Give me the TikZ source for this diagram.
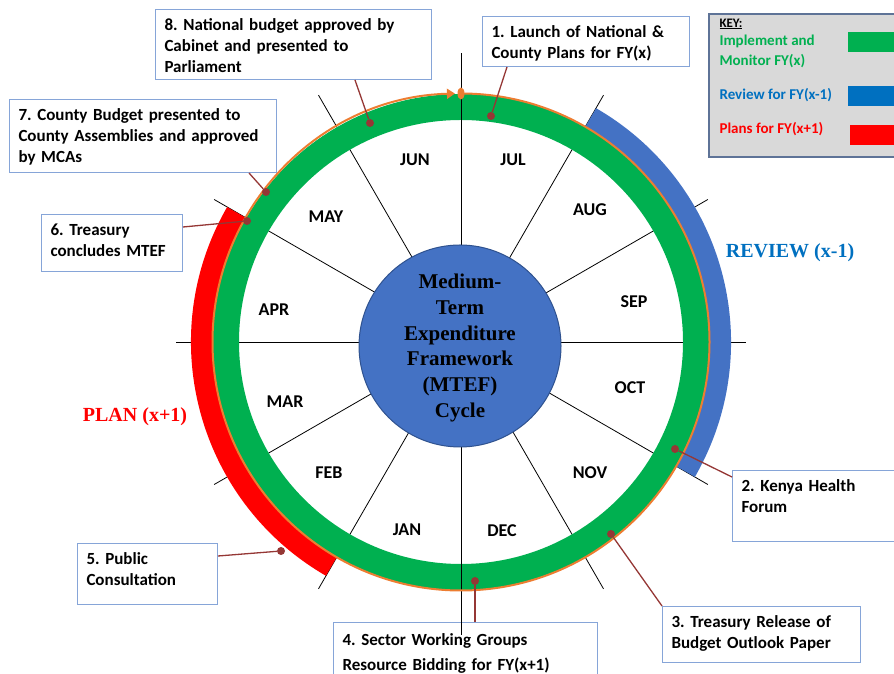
\documentclass[tikz,border=0pt]{standalone}
\usepackage{fontspec}
\setmainfont{Carlito}
\newfontfamily\timesfont{Liberation Serif}
\usetikzlibrary{calc}
\usetikzlibrary{arrows.meta}
\definecolor{ringgreen}{HTML}{00B050}
\definecolor{ringorange}{HTML}{ED7D31}
\definecolor{reviewblue}{HTML}{4472C4}
\definecolor{keyblue}{HTML}{0070C0}
\definecolor{hubedge}{HTML}{2F528F}
\definecolor{boxblue}{HTML}{86A5D8}
\definecolor{connred}{HTML}{953735}
\definecolor{keygray}{HTML}{D9D9D9}
\newcommand*{\ringr }{235}
\newcommand*{\ringw }{26}
\newcommand*{\orgr  }{248.5}
\newcommand*{\arcr  }{257.5}
\newcommand*{\arcw  }{25}
\newcommand*{\hubr  }{101}
\newcommand*{\spoke }{285}
\newcommand*{\boxfont}{\fontsize{17}{21}\selectfont\bfseries}
\newcommand*{\monfont}{\fontsize{18}{21}\selectfont\bfseries}
\newcommand*{\keyfont}{\fontsize{15}{20}\selectfont\bfseries}
\newcommand*{\bigfont}{\timesfont\fontsize{21}{25.8}\selectfont\bfseries}
\frenchspacing

\begin{document}
\begin{tikzpicture}[x=1pt, y=1pt,
    callout/.style={draw=boxblue, line width=1pt, fill=white, anchor=north west, align=left,
                    inner xsep=9pt, inner ysep=0pt, text height=21.5pt, font=\boxfont},
    dot/.style={circle, fill=connred, inner sep=0pt, minimum size=8pt},
    conn/.style={connred, line width=1.3pt},
    month/.style={font=\monfont},
    keytext/.style={anchor=west, align=left, font=\keyfont}]
    \useasboundingbox (0,0) rectangle (894,674);
    \coordinate (C) at (461,332);

    \node [callout, text width=258pt, text depth=48.5pt] (b8) at (155,665) {8. National budget approved by\\Cabinet and presented to\\Parliament};
    \node [callout, text width=249pt, text depth=51.5pt] (b7) at (9,575) {7. County Budget presented to\\County Assemblies and approved\\by MCAs};
    \node [callout, text width=123pt, text depth=35.5pt] (b6) at (41,460) {6. Treasury\\concludes MTEF};
    \node [callout, text width=189pt, text depth=28.5pt] (b1) at (482,658) {1. Launch of National \&\\County Plans for FY(x)};
    \node [callout, text width=157pt, text depth=49.5pt] (b2) at (732,204) {2. Kenya Health\\Forum};
    \node [callout, text width=180pt, text depth=34.5pt] (b3) at (662,68) {3. Treasury Release of\\Budget Outlook Paper};
    \node [callout, text width=246pt, text height=23pt, text depth=48.5pt,
           font=\fontsize{17}{25}\selectfont\bfseries] (b4) at (333,52) {4. Sector Working Groups\\Resource Bidding for FY(x+1)};
    \node [callout, text width=122pt, text depth=39.5pt] (b5) at (77,131) {5. Public\\Consultation};

    \foreach \ang in {0,30,...,330}
        \draw [black, line width=0.8pt] (C) -- ++(\ang:\spoke);
    \draw [reviewblue, line width=\arcw pt] ($(C)+(-30:\arcr)$) arc [start angle=-30, end angle=60, radius=\arcr];
    \draw [red, line width=\arcw pt] ($(C)+(150:\arcr)$) arc [start angle=150, end angle=240, radius=\arcr];
    \draw [ringgreen, line width=\ringw pt] (C) circle (\ringr);
    \draw [black, line width=0.8pt] ($(C)+(90:\hubr)$) -- ++(90:188);
    \draw [black, line width=0.8pt] ($(C)+(270:\hubr)$) -- ++(270:192);
    \draw [ringorange, line width=2pt, -{Triangle[length=8pt, width=10pt]}] ($(C)+(90:\orgr)$) arc [start angle=90, end angle=-268.6, radius=\orgr];
    \fill [ringorange] ($(C)+(90:\orgr)$) ellipse (3.5 and 6);
    \draw [fill=reviewblue, draw=hubedge, line width=1pt] (460,328) circle (\hubr);
    \node [align=center, inner sep=0pt, text=black, font=\bigfont] (hub) at (460,326) {Medium-\\Term\\Expenditure\\Framework\\(MTEF)\\Cycle};

    \foreach \mon/\mx/\my in {JUL/513/514, JUN/415/514, AUG/590/464, MAY/326/457, SEP/634/372, APR/274/364,
                              OCT/630/286, MAR/285/272, NOV/590/201, FEB/329/201, DEC/502/143, JAN/407/144}
        \node [month] (m\mon) at (\mx,\my) {\mon};

    \node [dot] (d1) at (491,558) {};
    \node [dot] (d2) at (675,225) {};
    \node [dot] (d3) at (611,140) {};
    \node [dot] (d4) at (475,93)  {};
    \node [dot] (d5) at (281,123) {};
    \node [dot] (d6) at (247,453) {};
    \node [dot] (d7) at (266,482) {};
    \node [dot] (d8) at (370,551) {};
    \draw [conn] ([xshift=25pt]b1.south west)  -- (d1);
    \draw [conn] ([yshift=-7pt]b2.north west)  -- (d2);
    \draw [conn] (b3.north west)               -- (d3);
    \draw [conn] ([xshift=142pt]b4.north west) -- (d4);
    \draw [conn] ([yshift=-13pt]b5.north east) -- (d5);
    \draw [conn] ([yshift=-13pt]b6.north east) -- (d6);
    \draw [conn] ([xshift=-28pt]b7.south east) -- (d7);
    \draw [conn] ([xshift=-77pt]b8.south east) -- (d8);

    \node [text=keyblue, font=\timesfont\fontsize{20}{24}\selectfont\bfseries] (review) at (790,421) {REVIEW (x-1)};
    \node [text=red, font=\timesfont\fontsize{20}{24}\selectfont\bfseries] (plan) at (135,257) {PLAN (x+1)};

    % key
    \draw [fill=keygray, draw=boxblue!70!black, line width=1.2pt] (709,517) rectangle (905,660);
    \node [keytext, font=\fontsize{13}{15}\selectfont\bfseries] (keyhead) at (716,650) {\underline{KEY:}};
    \node [keytext, text=ringgreen] (kimpl) at (716,623) {Implement and\\Monitor FY(x)};
    \node [keytext, text=keyblue] (krev) at (716,579) {Review for FY(x-1)};
    \node [keytext, text=red] (kplan) at (716,545) {Plans for FY(x+1)};
    \fill [ringgreen]  (848,622) rectangle (900,642);
    \fill [keyblue]    (848,568) rectangle (900,588);
    \fill [red]        (850,529) rectangle (900,549);
\end{tikzpicture}
\end{document}
